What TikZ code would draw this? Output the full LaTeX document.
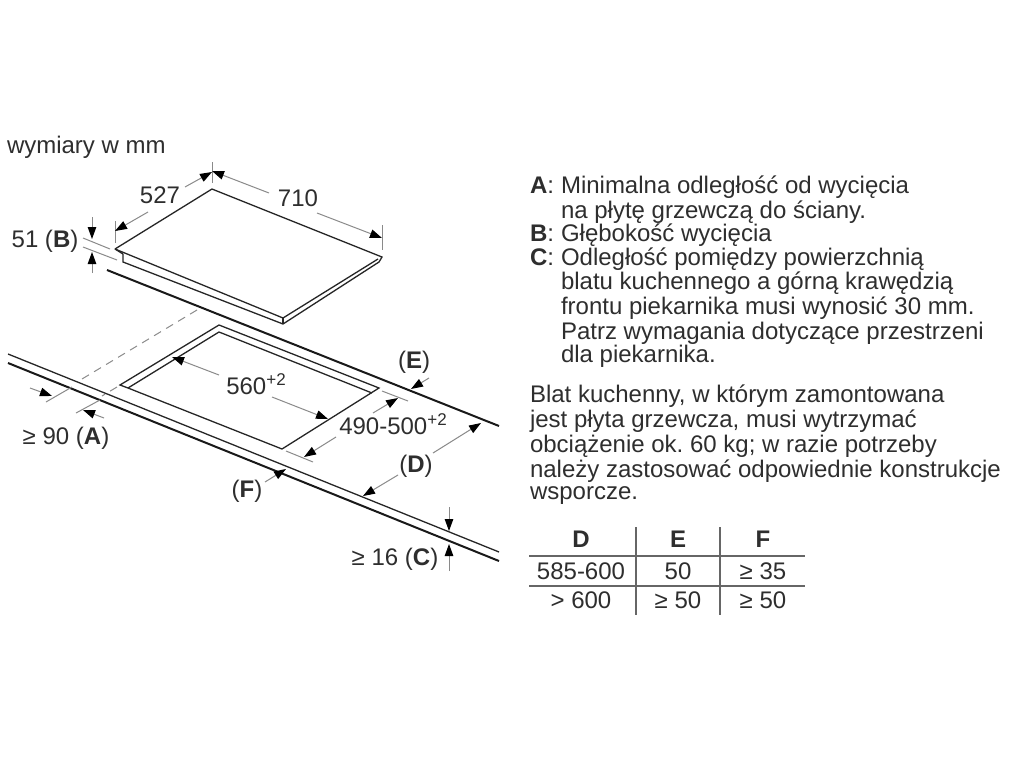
\documentclass[tikz,border=0pt]{standalone}
\usepackage{fontspec}
\setmainfont{Liberation Sans}
\usetikzlibrary{arrows.meta}
\definecolor{ink}{HTML}{2E2E2E}
\definecolor{dimgray}{HTML}{8A8A8A}
\newcommand{\supr}[1]{\raisebox{8.5pt}{\fontsize{17}{18}\selectfont #1}}
\frenchspacing
\tikzset{
  x=1pt,y=-1pt,
  lab/.style={inner sep=0pt,outer sep=0pt,text=ink,font=\fontsize{24}{26}\selectfont,anchor=base},
  txt/.style={lab,anchor=base west},
  thin edge/.style={draw=black!85,line width=1.3pt,line join=miter},
  thick edge/.style={draw=black!90,line width=2pt},
  dimline/.style={draw=dimgray,line width=1pt},
  dimarrow/.style={dimline,-{Triangle[length=12pt,width=8.5pt,color=black]}},
  hidden/.style={draw=dimgray,line width=1pt,dash pattern=on 8pt off 6pt},
  tabrule/.style={draw=black!60,line width=1.1pt}
}
\begin{document}
\begin{tikzpicture}
\useasboundingbox (0,0) rectangle (1024,768);
\fill[white] (0,0) rectangle (1024,768);
% hob plate
\draw[thin edge] (115,249) -- (212,189) -- (382,257) -- (379,262) -- (283,324) -- (123,262) -- (123,254);
\draw[thin edge] (115,249) -- (283,318) -- (378,259);
\draw[thin edge] (283,318) -- (283,324);
\draw[thin edge] (115,249) -- (123,254);
% worktop
\draw[thick edge] (107,270) -- (499,426);
\draw[thin edge] (8,354) -- (499,552);
\draw[thick edge] (8,363) -- (499,561);
% cut-out
\draw[thin edge] (120,385) -- (219,325) -- (379,388) -- (282,449) -- (128,388) -- cycle;
\draw[thin edge] (128,388) -- (219,332) -- (372,393);
% hidden lines
\draw[hidden] (197,310) -- (77,382);
\draw[hidden] (117,387) -- (102,396);
% extension lines
\draw[dimline] (72,387) -- (46,402);
\draw[dimline] (100,400) -- (76,413);
\draw[dimline] (212,162) -- (212,183);
\draw[dimline] (115,221) -- (115,243);
\draw[dimline] (382,225) -- (382,250);
\draw[dimline] (83,238) -- (110,249);
\draw[dimline] (83,247) -- (117,260);
\draw[dimline] (382,391) -- (408,401);
\draw[dimline] (286,451) -- (313,462);
% dimension arrows
\draw[dimarrow] (30,388) -- (52,396);
\draw[dimarrow] (104,418) -- (83,410);
\draw[dimarrow] (219,375) -- (172,357);
\draw[dimarrow] (272,397) -- (328,419);
\draw[dimarrow] (373,413) -- (398,398);
\draw[dimarrow] (336,437) -- (304,457);
\draw[dimarrow] (433,453) -- (481,423);
\draw[dimarrow] (398,475) -- (363,496);
\draw[dimarrow] (429,378) -- (411,389);
\draw[dimarrow] (265,482) -- (286,469);
\draw[dimarrow] (449,507) -- (449,531);
\draw[dimarrow] (449,571) -- (449,544);
\draw[dimarrow] (148,212) -- (115,231);
\draw[dimarrow] (185,187) -- (212,172);
\draw[dimarrow] (269,193) -- (212,171);
\draw[dimarrow] (317,213) -- (382,238);
\draw[dimarrow] (92,217) -- (92,239);
\draw[dimarrow] (92,273) -- (92,252);
% diagram labels
\node[txt] (units) at (7,153) {wymiary w mm};
\node[lab] (w527) at (160,203) {527};
\node[lab] (w710) at (298,206) {710};
\node[lab] (wB) at (45,247) {51 (\textbf{B})};
\node[lab] (wA) at (66,444) {≥ 90 (\textbf{A})};
\node[lab] (w560) at (256,394) {560\supr{+2}};
\node[lab] (w490) at (393,434) {490-500\supr{+2}};
\node[lab] (wE) at (414,368) {(\textbf{E})};
\node[lab] (wD) at (416,472) {(\textbf{D})};
\node[lab] (wF) at (247,497) {(\textbf{F})};
\node[lab] (wC) at (395,565) {≥ 16 (\textbf{C})};
% legend
\node[txt] (la) at (530,193) {\textbf{A}:};
\node[txt] (l1) at (561,193) {Minimalna odległość od wycięcia};
\node[txt] (l2) at (561,218) {na płytę grzewczą do ściany.};
\node[txt] (lb) at (530,241) {\textbf{B}:};
\node[txt] (l3) at (561,241) {Głębokość wycięcia};
\node[txt] (lc) at (530,265) {\textbf{C}:};
\node[txt] (l4) at (561,265) {Odległość pomiędzy powierzchnią};
\node[txt] (l5) at (561,289) {blatu kuchennego a górną krawędzią};
\node[txt] (l6) at (561,314) {frontu piekarnika musi wynosić 30 mm.};
\node[txt] (l7) at (561,339) {Patrz wymagania dotyczące przestrzeni};
\node[txt] (l8) at (561,362) {dla piekarnika.};
\node[txt] (p1) at (530,402) {Blat kuchenny, w którym zamontowana};
\node[txt] (p2) at (530,427) {jest płyta grzewcza, musi wytrzymać};
\node[txt] (p3) at (530,452) {obciążenie ok. 60 kg; w razie potrzeby};
\node[txt] (p4) at (530,477) {należy zastosować odpowiednie konstrukcje};
\node[txt] (p5) at (530,499) {wsporcze.};
% table
\draw[tabrule] (529,556) -- (805,556);
\draw[tabrule] (529,586) -- (805,586);
\draw[tabrule] (636,527) -- (636,615);
\draw[tabrule] (720,527) -- (720,615);
\node[lab] (hD) at (581,547) {\textbf{D}};
\node[lab] (hE) at (678,547) {\textbf{E}};
\node[lab] (hF) at (763,547) {\textbf{F}};
\node[lab] (c11) at (581,579) {585-600};
\node[lab] (c12) at (678,579) {50};
\node[lab] (c13) at (763,579) {≥ 35};
\node[lab] (c21) at (581,608) {> 600};
\node[lab] (c22) at (678,608) {≥ 50};
\node[lab] (c23) at (763,608) {≥ 50};
\end{tikzpicture}
\end{document}
